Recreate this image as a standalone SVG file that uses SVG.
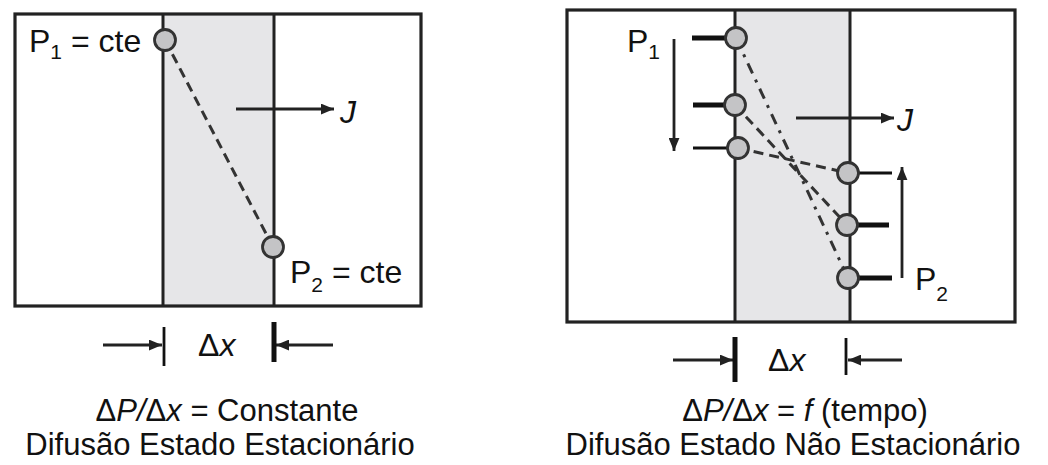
<svg xmlns="http://www.w3.org/2000/svg" width="1048" height="465" viewBox="0 0 1048 465">
<style>
.frame{fill:none;stroke:#222;stroke-width:3.2}
.wall{stroke:#222;stroke-width:3}
.membrane{fill:#e6e6e8;stroke:none}
.pt{fill:#c4c4c6;stroke:#333;stroke-width:2.8}
.ln{stroke:#222;stroke-width:2.8;fill:none}
.thick{stroke:#111;stroke-width:5}
.thin{stroke:#111;stroke-width:2.8}
.dash{stroke:#333;stroke-width:3;fill:none;stroke-dasharray:10 6}
.dashdot{stroke:#333;stroke-width:3;fill:none;stroke-dasharray:11 7 3 7}
text{font-family:"Liberation Sans",Arial,sans-serif;fill:#111}
.lbl{font-size:32px}
.sub{font-size:21px}
.it{font-style:italic}
.cap{font-size:31px;text-anchor:middle}
</style>
<defs>
<marker id="ah" viewBox="0 0 12 10" refX="12" refY="5" markerWidth="13" markerHeight="11" markerUnits="userSpaceOnUse" orient="auto">
<path d="M0,0 L12,5 L0,10 Z" fill="#222"/>
</marker>
</defs>

<g id="left-panel">
<rect class="membrane" x="163" y="14" width="111" height="292"/>
<line class="wall" x1="163" y1="14" x2="163" y2="306"/>
<line class="wall" x1="274" y1="14" x2="274" y2="306"/>
<rect class="frame" x="15" y="14" width="406" height="292"/>
</g>

<g id="right-panel">
<rect class="membrane" x="735" y="10" width="115" height="312"/>
<line class="wall" x1="735" y1="10" x2="735" y2="322"/>
<line class="wall" x1="850" y1="10" x2="850" y2="322"/>
<rect class="frame" x="567" y="10" width="448" height="312"/>
</g>

<g id="connectors">
<line class="dash" x1="165" y1="40" x2="273" y2="247"/>
<line class="ln" x1="236" y1="109" x2="334" y2="109" marker-end="url(#ah)"/>
<line class="dashdot" x1="736" y1="38" x2="848" y2="278"/>
<line class="dash" x1="735" y1="105" x2="847" y2="225"/>
<line class="dash" x1="738" y1="148" x2="848" y2="173"/>
<line class="ln" x1="796" y1="118" x2="894" y2="118" marker-end="url(#ah)"/>
<line class="ln" x1="674" y1="39" x2="674" y2="151" marker-end="url(#ah)"/>
<line class="ln" x1="902" y1="278" x2="902" y2="167" marker-end="url(#ah)"/>
<line class="ln" x1="103" y1="345" x2="162" y2="345" marker-end="url(#ah)"/>
<line class="ln" x1="333" y1="345" x2="276" y2="345" marker-end="url(#ah)"/>
<line class="ln" x1="673" y1="360" x2="733" y2="360" marker-end="url(#ah)"/>
<line class="ln" x1="902" y1="360" x2="848" y2="360" marker-end="url(#ah)"/>
</g>

<g id="left-points">
<circle class="pt" cx="165" cy="40" r="10.5"/>
<circle class="pt" cx="273" cy="247" r="10.5"/>
<text class="lbl" x="29" y="52">P<tspan class="sub" dy="7">1</tspan><tspan dy="-7"> = cte</tspan></text>
<text class="lbl" x="290" y="283">P<tspan class="sub" dy="9">2</tspan><tspan dy="-9"> = cte</tspan></text>
<text class="lbl it" x="340" y="123">J</text>
</g>

<g id="right-points">
<line class="thick" x1="692" y1="38" x2="728" y2="38"/>
<line class="thick" x1="693" y1="105" x2="727" y2="105"/>
<line class="thin" x1="693" y1="148" x2="730" y2="148"/>
<line class="thin" x1="856" y1="173" x2="892" y2="173"/>
<line class="thick" x1="855" y1="225" x2="889" y2="225"/>
<line class="thick" x1="856" y1="278" x2="892" y2="278"/>
<circle class="pt" cx="736" cy="38" r="10.5"/>
<circle class="pt" cx="735" cy="105" r="10.5"/>
<circle class="pt" cx="738" cy="148" r="10.5"/>
<circle class="pt" cx="848" cy="173" r="10.5"/>
<circle class="pt" cx="847" cy="225" r="10.5"/>
<circle class="pt" cx="848" cy="278" r="10.5"/>
<text class="lbl" x="627" y="52">P<tspan class="sub" dy="7">1</tspan></text>
<text class="lbl" x="915" y="290">P<tspan class="sub" dy="11">2</tspan></text>
<text class="lbl it" x="897" y="131">J</text>
</g>

<g id="left-dimension">
<line stroke="#111" stroke-width="2.8" x1="164" y1="327" x2="164" y2="366"/>
<line stroke="#111" stroke-width="5" x1="274" y1="322" x2="274" y2="362"/>
<text class="lbl" x="198" y="356" font-size="34">Δ<tspan class="it">x</tspan></text>
</g>

<g id="right-dimension">
<line stroke="#111" stroke-width="5" x1="735" y1="337" x2="735" y2="382"/>
<line stroke="#111" stroke-width="2.8" x1="846" y1="338" x2="846" y2="375"/>
<text class="lbl" x="768" y="371" font-size="34">Δ<tspan class="it">x</tspan></text>
</g>

<g id="left-caption">
<text class="cap" x="227" y="421">Δ<tspan class="it">P/</tspan>Δ<tspan class="it">x</tspan> = Constante</text>
<text class="cap" x="220" y="455">Difusão Estado Estacionário</text>
</g>

<g id="right-caption">
<text class="cap" x="805" y="421">Δ<tspan class="it">P/</tspan>Δ<tspan class="it">x</tspan> = <tspan class="it">f</tspan> (tempo)</text>
<text class="cap" x="793" y="455">Difusão Estado Não Estacionário</text>
</g>
</svg>
